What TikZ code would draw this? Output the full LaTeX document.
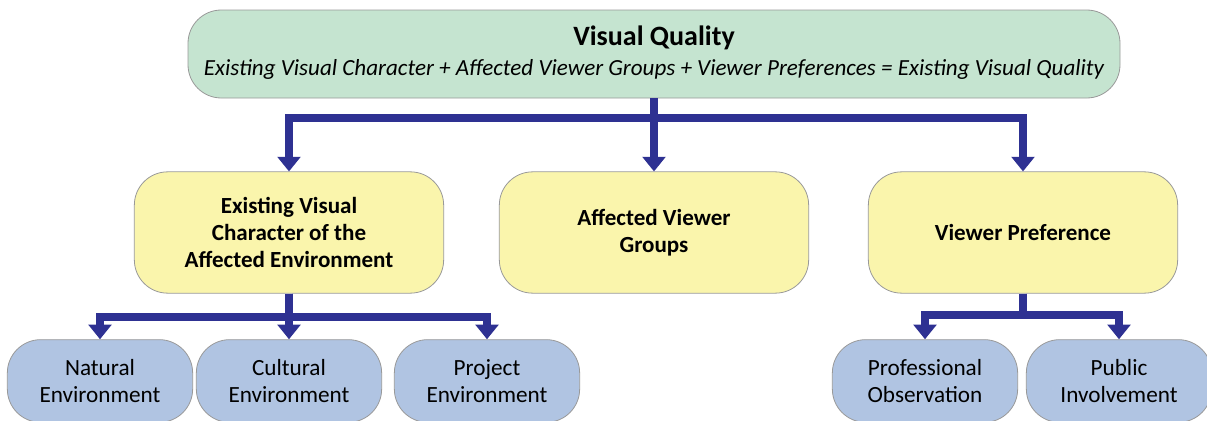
\documentclass[tikz,border=0pt]{standalone}
\usepackage{fontspec}
\setmainfont{Carlito}
\usetikzlibrary{arrows.meta}
\definecolor{topgreen}{RGB}{197,228,208}
\definecolor{midyellow}{RGB}{250,245,172}
\definecolor{lowblue}{RGB}{176,196,226}
\definecolor{linkblue}{RGB}{46,49,146}

\begin{document}
\begin{tikzpicture}[x=0.75pt,y=-0.75pt,
    box/.style={draw=black!40, line width=0.6pt, rounded corners=25pt, align=center, inner sep=0pt},
    topbox/.style={box, fill=topgreen, minimum width=699pt, minimum height=66pt},
    midbox/.style={box, fill=midyellow, minimum width=232pt, minimum height=91pt,
      font=\fontsize{17.3}{20.6}\selectfont\bfseries},
    lowbox/.style={box, fill=lowblue, minimum width=139pt, minimum height=62pt,
      font=\fontsize{17.4}{20.3}\selectfont},
    link/.style={linkblue, line width=6pt, -{Triangle[width=17pt,length=11pt]}}]
    \useasboundingbox (0,0) rectangle (1207,421);
    % top row
    \node[topbox] (vq) at (654,54) {};
    \node (vqtitle) at (654,38) {\fontsize{21}{24}\selectfont\bfseries Visual Quality};
    \node (vqsum) at (654,69) {\fontsize{17.3}{20}\selectfont\itshape Existing Visual Character + Affected Viewer Groups + Viewer Preferences = Existing Visual Quality};
    % middle row
    \node[midbox] (evc) at (289,232.5) {Existing Visual\\Character of the\\Affected Environment};
    \node[midbox] (avg) at (654,232.5) {Affected Viewer\\Groups};
    \node[midbox] (vp) at (1023,232.5) {Viewer Preference};
    % bottom row
    \node[lowbox] (nat) at (100,381) {Natural\\Environment};
    \node[lowbox] (cul) at (289,381) {Cultural\\Environment};
    \node[lowbox] (pro) at (487,381) {Project\\Environment};
    \node[lowbox] (obs) at (925,381) {Professional\\Observation};
    \node[lowbox] (pub) at (1119,381) {Public\\Involvement};
    % connectors
    \draw[link] (vq.south) -- ++(0,20) -| (evc.north);
    \draw[link] (vq.south) -- (avg.north);
    \draw[link] (vq.south) -- ++(0,20) -| (vp.north);
    \draw[link] (evc.south) -- ++(0,23) -| (nat.north);
    \draw[link] (evc.south) -- (cul.north);
    \draw[link] (evc.south) -- ++(0,23) -| (pro.north);
    \draw[link] (vp.south) -- ++(0,21) -| (obs.north);
    \draw[link] (vp.south) -- ++(0,21) -| (pub.north);
\end{tikzpicture}
\end{document}
